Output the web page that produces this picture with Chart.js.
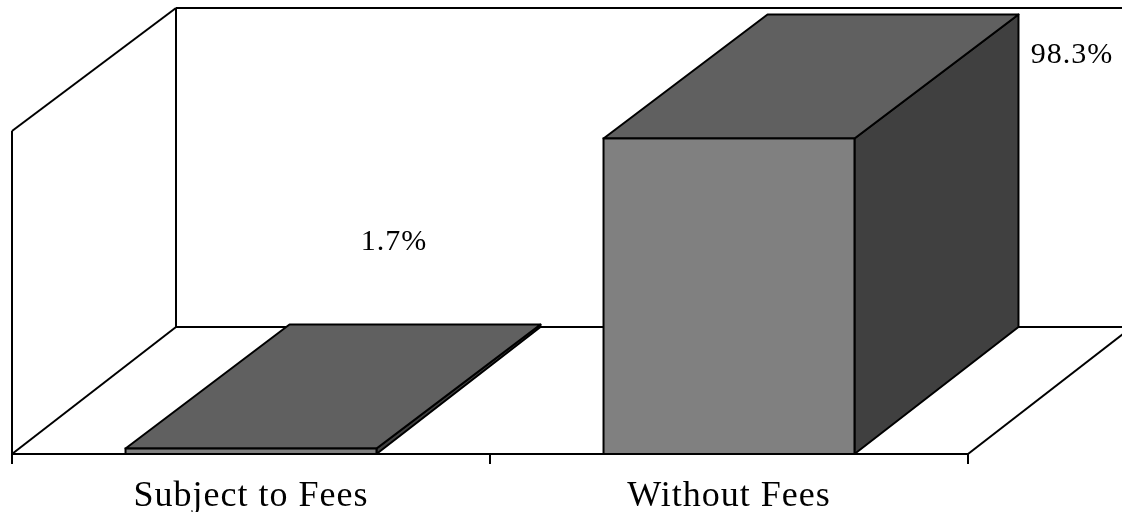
<!DOCTYPE html>
<html>
<head>
<meta charset="utf-8">
<style>
  html, body { margin: 0; padding: 0; background: #fff; }
  #wrap { width: 1122px; height: 512px; }
</style>
<script src="https://cdn.jsdelivr.net/npm/chart.js@4/dist/chart.umd.min.js"></script>
</head>
<body>
<div id="wrap"><canvas id="chart"></canvas></div>
<script>
const categories = ['Subject to Fees', 'Without Fees']
const shares = [1.7, 98.3]

const COLORS = { front: '#808080', top: '#606060', side: '#404040', line: '#000000' }
const SERIF = '"Liberation Serif", "Times New Roman", serif'

// oblique projection of the box depth
const DEPTH_X = 164
const DEPTH_Y = 124
const FLOOR_DEPTH_Y = 127
const WALL_TOP = 8

// value labels sit away from their bars
const LABEL_SPOTS = [{ dx: 143, y: 250 }, { dx: 343, y: 63 }]

function poly(ctx, pts, fill) {
  ctx.beginPath()
  pts.forEach(([x, y], i) => (i ? ctx.lineTo(x, y) : ctx.moveTo(x, y)))
  ctx.closePath()
  if (fill) {
    ctx.fillStyle = fill
    ctx.fill()
  }
  ctx.stroke()
}

function seg(ctx, x1, y1, x2, y2) {
  ctx.beginPath()
  ctx.moveTo(x1, y1)
  ctx.lineTo(x2, y2)
  ctx.stroke()
}

const box3d = {
  id: 'box3d',
  beforeDatasetsDraw(chart) {
    const { ctx, chartArea: a, width } = chart
    ctx.save()
    ctx.strokeStyle = COLORS.line
    ctx.lineWidth = 2
    ctx.lineJoin = 'round'

    // walls and floor
    const backX = a.left + DEPTH_X
    const backFloor = a.bottom - FLOOR_DEPTH_Y
    seg(ctx, a.left, a.top - 2, a.left, a.bottom)
    seg(ctx, a.left, a.top - 2, backX, WALL_TOP)
    seg(ctx, backX, WALL_TOP, width, WALL_TOP)
    seg(ctx, backX, WALL_TOP, backX, backFloor)
    seg(ctx, backX, backFloor, width, backFloor)
    seg(ctx, a.left, a.bottom, backX, backFloor)
    seg(ctx, a.right, a.bottom, a.right + DEPTH_X, backFloor)
    seg(ctx, a.left, a.bottom, a.right, a.bottom)

    // top and side faces; the front face is the bar itself
    chart.getDatasetMeta(0).data.forEach(bar => {
      const left = bar.x - bar.width / 2
      const right = bar.x + bar.width / 2
      poly(ctx, [[right, bar.y], [right + DEPTH_X, bar.y - DEPTH_Y], [right + DEPTH_X, bar.base - FLOOR_DEPTH_Y], [right, bar.base]], COLORS.side)
      poly(ctx, [[left, bar.y], [left + DEPTH_X, bar.y - DEPTH_Y], [right + DEPTH_X, bar.y - DEPTH_Y], [right, bar.y]], COLORS.top)
    })
    ctx.restore()
  },
  afterDatasetsDraw(chart) {
    const { ctx } = chart
    ctx.save()
    ctx.strokeStyle = COLORS.line
    ctx.lineWidth = 2
    ctx.fillStyle = COLORS.line
    ctx.font = '30px ' + SERIF
    ctx.textAlign = 'center'
    ctx.textBaseline = 'alphabetic'
    chart.getDatasetMeta(0).data.forEach((bar, i) => {
      // outline centred on the bar edge, so the thin bar keeps its grey strip
      ctx.strokeRect(bar.x - bar.width / 2, bar.y, bar.width, bar.base - bar.y)
      const spot = LABEL_SPOTS[i]
      ctx.fillText(shares[i].toFixed(1) + '%', bar.x + spot.dx, spot.y)
    })
    ctx.restore()
  },
  beforeDraw(chart) {
    // slightly spaced text throughout
    chart.ctx.letterSpacing = '1px'
  },
}

new Chart(document.getElementById('chart'), {
  type: 'bar',
  data: {
    labels: categories,
    datasets: [{
      data: shares,
      backgroundColor: COLORS.front,
      borderWidth: 0,
      barPercentage: 0.525,
      categoryPercentage: 1,
    }],
  },
  options: {
    responsive: true,
    maintainAspectRatio: false,
    animation: false,
    layout: { padding: { left: 12, right: 154, top: 133, bottom: 0 } },
    plugins: { legend: { display: false }, tooltip: { enabled: false } },
    scales: {
      x: {
        afterFit: scale => { scale.height = 58 },
        border: { display: false },
        grid: { drawOnChartArea: false, drawTicks: true, tickLength: 10, tickColor: COLORS.line, tickWidth: 2, lineWidth: 2 },
        ticks: { color: COLORS.line, font: { family: SERIF, size: 36 }, padding: 11, maxRotation: 0 },
      },
      y: { display: false, min: 0, max: 100 },
    },
  },
  plugins: [box3d],
})
</script>
</body>
</html>
